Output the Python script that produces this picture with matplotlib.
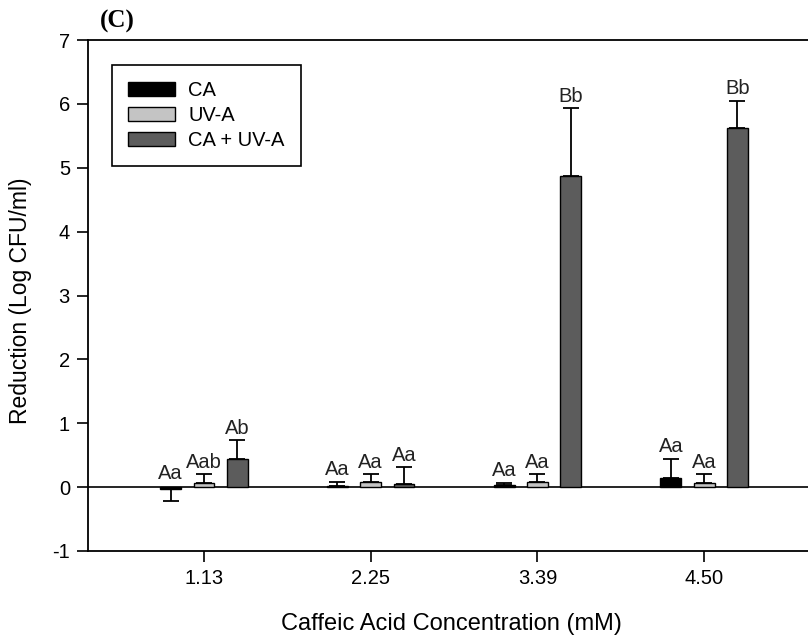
import numpy as np
import matplotlib
matplotlib.use("Agg")
import matplotlib.pyplot as plt

plt.rcParams['font.family'] = ['Liberation Sans', 'DejaVu Sans']
plt.rcParams['axes.unicode_minus'] = False

# data
concentrations = ["1.13", "2.25", "3.39", "4.50"]
series_names = ["CA", "UV-A", "CA + UV-A"]
ca_vals = [-0.03, 0.01, 0.03, 0.14]
ca_err = [0.18, 0.07, 0.04, 0.30]
uva_vals = [0.07, 0.08, 0.08, 0.07]
uva_err = [0.13, 0.12, 0.12, 0.13]
combo_vals = [0.44, 0.05, 4.87, 5.63]
combo_err = [0.29, 0.26, 1.06, 0.42]
ca_labels = ["Aa", "Aa", "Aa", "Aa"]
uva_labels = ["Aab", "Aa", "Aa", "Aa"]
combo_labels = ["Ab", "Aa", "Bb", "Bb"]

colors = ["#000000", "#c4c4c4", "#5c5c5c"]

fig = plt.figure(figsize=(8.08, 6.38), dpi=100)
ax = fig.add_axes([88 / 808, 1 - 551 / 638, (808 - 88) / 808, (551 - 40) / 638])

x = np.arange(1, len(concentrations) + 1)
offset = 0.2
width = 0.125

groups = [(ca_vals, ca_err, ca_labels), (uva_vals, uva_err, uva_labels),
          (combo_vals, combo_err, combo_labels)]
for i, (vals, errs, labs) in enumerate(groups):
    pos = x + (i - 1) * offset
    vals = np.array(vals)
    errs = np.array(errs)
    ax.bar(pos, vals, width, color=colors[i], edgecolor="black", linewidth=1,
           label=series_names[i], zorder=3)
    # one-sided error bars in the direction of the bar
    lower = np.where(vals < 0, errs, 0)
    upper = np.where(vals < 0, 0, errs)
    ax.errorbar(pos, vals, yerr=[lower, upper], fmt="none", ecolor="black",
                elinewidth=1.3, capsize=6, capthick=1.3, zorder=4)
    for p, v, e, t in zip(pos, vals, errs, labs):
        top = v + e if v >= 0 else 0.02
        ax.text(p, top + 0.04, t, ha="center", va="bottom", fontsize=14.5,
                color="#222222")

ax.axhline(0, color="black", linewidth=1.2, zorder=2)

ax.set_xlim(0.304, 4.623)
ax.set_ylim(-1, 7)
ax.set_xticks(x)
ax.set_xticklabels(concentrations)
ax.set_yticks(range(-1, 8))
ax.tick_params(direction="out", length=8, width=1.2, labelsize=14.5, pad=5)
for s in ["left", "bottom", "top"]:
    ax.spines[s].set_linewidth(1.3)
ax.spines["right"].set_visible(False)

ax.set_ylabel("Reduction (Log CFU/ml)", fontsize=16.5)
ax.yaxis.set_label_coords(-0.078, 0.49)
ax.set_xlabel("Caffeic Acid Concentration (mM)", fontsize=17)
ax.xaxis.set_label_coords(0.505, -0.121)

leg = ax.legend(loc="upper left", bbox_to_anchor=(24 / 720, 1 - 25 / 511),
                borderaxespad=0, fontsize=14.5, fancybox=False,
                edgecolor="black", framealpha=1, handlelength=2.34,
                handleheight=0.7, labelspacing=0.3, borderpad=0.8,
                handletextpad=0.65)
leg.get_frame().set_linewidth(1.2)

fig.text(100 / 808, 1 - 21 / 638, "(C)", fontsize=18, fontweight="bold",
         family="Liberation Serif", ha="left", va="center")

fig.savefig("out.png", dpi=100)
